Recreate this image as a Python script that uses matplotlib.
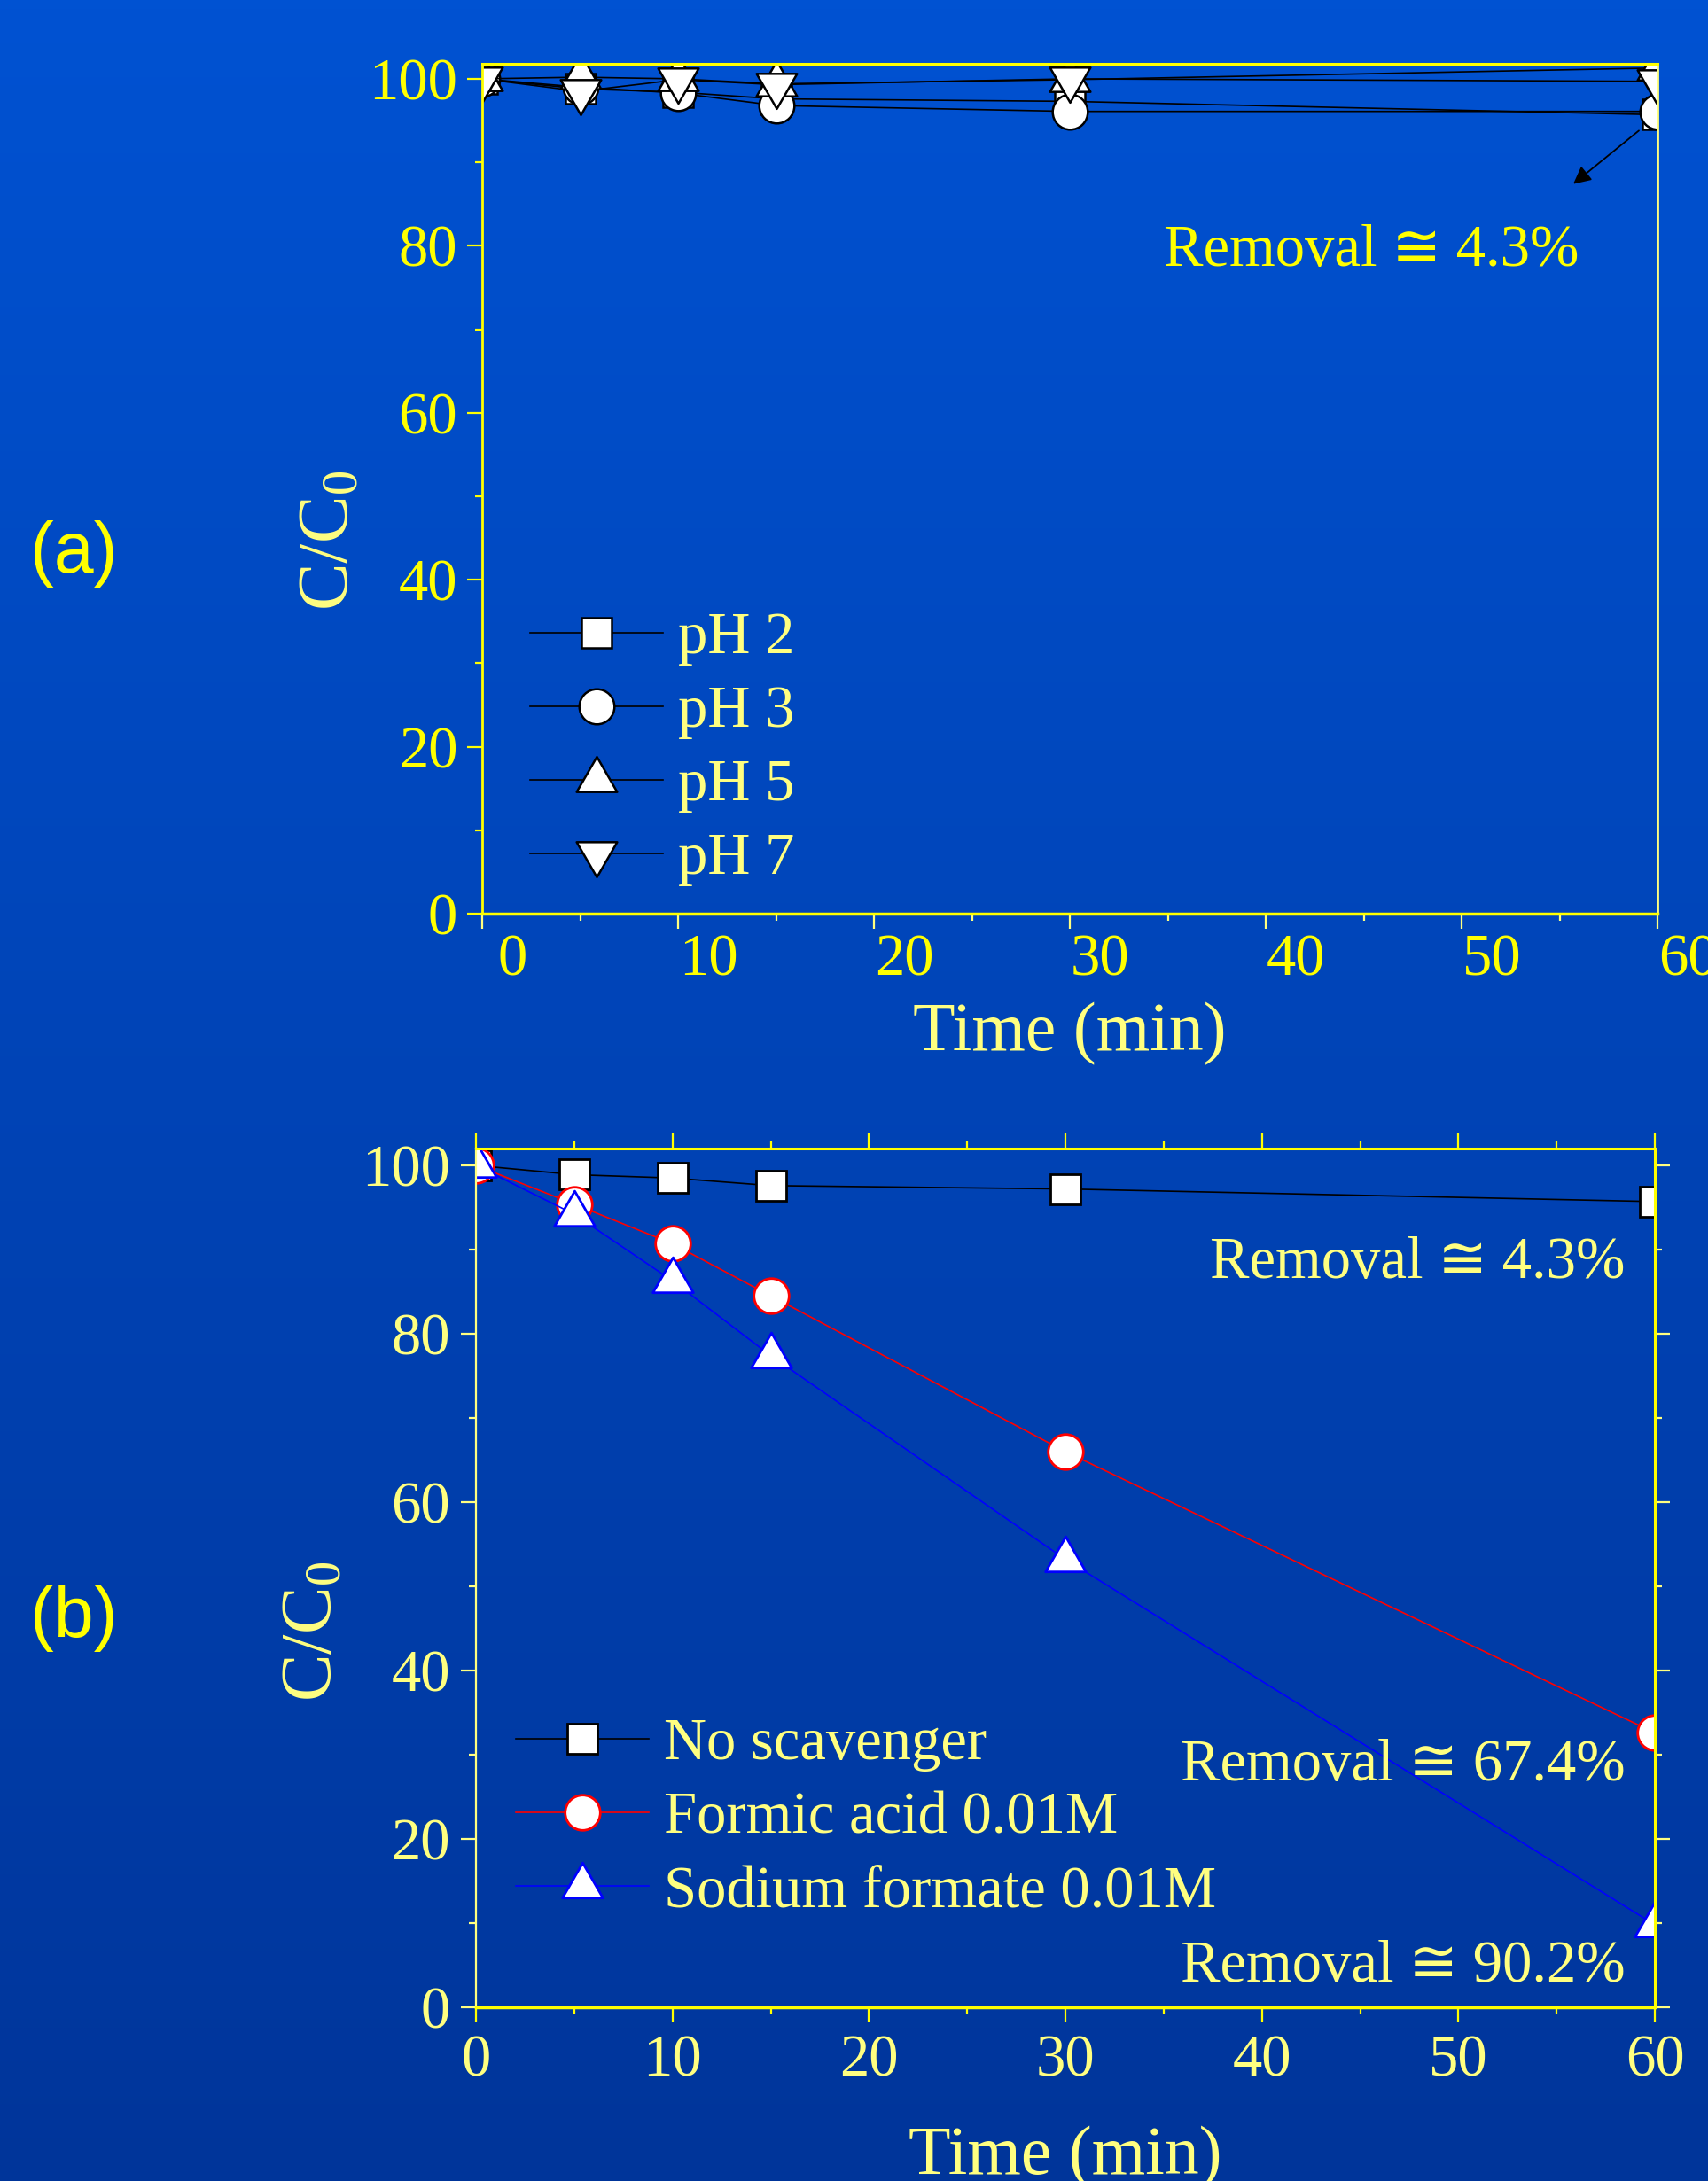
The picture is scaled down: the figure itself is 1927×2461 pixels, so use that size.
import numpy as np
import matplotlib
matplotlib.use('Agg')
import matplotlib.pyplot as plt
from matplotlib.path import Path
from matplotlib.ticker import MultipleLocator
from matplotlib.transforms import ScaledTranslation
from matplotlib.colors import LinearSegmentedColormap

plt.rcParams['font.family'] = ['Liberation Serif', 'DejaVu Sans']
plt.rcParams['mathtext.fontset'] = 'custom'
plt.rcParams['mathtext.rm'] = 'Liberation Serif'
plt.rcParams['mathtext.it'] = 'Liberation Serif:italic'

BRIGHT = '#FFFF00'
PALE = '#FFFF80'

# data
time_min = [0, 5, 10, 15, 30, 60]

ph_labels = ['pH 2', 'pH 3', 'pH 5', 'pH 7']
ph2 = [100, 98.8, 98.4, 97.6, 97.3, 95.7]
ph3 = [100, 99.0, 98.3, 96.8, 96.1, 96.1]
ph5 = [100, 100.2, 100.0, 99.4, 99.9, 101.3]
ph7 = [100, 98.5, 99.9, 99.3, 100.0, 99.7]

scav_labels = ['No scavenger', 'Formic acid 0.01M', 'Sodium formate 0.01M']
no_scav = [100, 98.9, 98.5, 97.6, 97.2, 95.7]
formic = [100, 95.4, 90.7, 84.5, 66.0, 32.6]
formate = [100, 94.2, 86.3, 77.4, 53.2, 9.8]

removal_a = 'Removal \u2245 4.3%'
removal_b = ['Removal \u2245 4.3%', 'Removal \u2245 67.4%', 'Removal \u2245 90.2%']

# triangles with the centroid on the data point (like Origin)
tri_up = Path([(0, 1.155), (-1, -0.577), (1, -0.577), (0, 1.155)],
              [Path.MOVETO, Path.LINETO, Path.LINETO, Path.CLOSEPOLY])
tri_dn = Path([(0, -1.155), (-1, 0.577), (1, 0.577), (0, -1.155)],
              [Path.MOVETO, Path.LINETO, Path.LINETO, Path.CLOSEPOLY])

W, H = 1927, 2461
fig = plt.figure(figsize=(W / 100, H / 100), dpi=100)

# blue gradient background
bg = fig.add_axes([0, 0, 1, 1], zorder=-10)
grad = np.linspace(0, 1, 256).reshape(-1, 1)
bg.imshow(grad, aspect='auto', extent=[0, 1, 0, 1],
          cmap=LinearSegmentedColormap.from_list('bg', ['#0052D2', '#00359A']))
bg.axis('off')

ax_a = fig.add_axes([544 / W, 1 - 1031 / H, (1870 - 544) / W, (1031 - 72) / H])
ax_b = fig.add_axes([537 / W, 1 - 2265 / H, (1867 - 537) / W, (2265 - 1296) / H])
for ax in (ax_a, ax_b):
    ax.set_facecolor('none')

# ---- panel (a)
mk = dict(color='black', lw=1.2, mfc='white', mec='black', mew=1.8)
ax_a.plot(time_min, ph2, marker='s', ms=25, label=ph_labels[0], **mk)
ax_a.plot(time_min, ph3, marker='o', ms=28.5, label=ph_labels[1], **mk)
ax_a.plot(time_min, ph5, marker=tri_up, ms=38, label=ph_labels[2], **mk)
ax_a.plot(time_min, ph7, marker=tri_dn, ms=38, label=ph_labels[3], **mk)

ax_a.set_xlim(0, 60)
ax_a.set_ylim(0, 101.8)
ax_a.set_xticks(range(0, 61, 10))
ax_a.set_yticks(range(0, 101, 20))
ax_a.xaxis.set_minor_locator(MultipleLocator(5))
ax_a.yaxis.set_minor_locator(MultipleLocator(10))
ax_a.tick_params(which='both', direction='out', top=False, right=False)
ax_a.tick_params(axis='y', which='major', length=12, width=1.6, color=BRIGHT,
                 labelcolor=BRIGHT, labelsize=48, pad=8)
ax_a.tick_params(axis='y', which='minor', length=6, width=1.6, color=BRIGHT)
ax_a.tick_params(axis='x', which='major', length=12, width=1.6, color=PALE,
                 labelcolor=BRIGHT, labelsize=48, pad=4)
ax_a.tick_params(axis='x', which='minor', length=6, width=1.6, color=PALE)
for side, c, w in [('top', BRIGHT, 2.2), ('left', BRIGHT, 2.0),
                   ('right', PALE, 2.0), ('bottom', BRIGHT, 2.5)]:
    ax_a.spines[side].set_color(c)
    ax_a.spines[side].set_linewidth(w)

ax_a.set_xlabel('Time (min)', fontsize=56, color=PALE, va='baseline')
ax_a.xaxis.set_label_coords(0.5, -0.1606)
ax_a.set_ylabel(r'C/C$_0$', fontsize=58, color=PALE, va='baseline')
ax_a.yaxis.set_label_coords(-0.114, 0.439)

leg = ax_a.legend(loc='center left', bbox_to_anchor=(0.0407, 0.194), frameon=False,
                  fontsize=48, handlelength=2.25, handletextpad=0.25, labelspacing=0.33,
                  borderpad=0, borderaxespad=0, numpoints=1)
for t in leg.get_texts():
    t.set_color(PALE)

ax_a.text(56.0, 77.6, removal_a, ha='right', va='baseline', fontsize=48, color=BRIGHT)
ax_a.annotate('', xy=(55.7, 87.4), xytext=(59.05, 93.8),
              arrowprops=dict(arrowstyle='-|>', color='black', lw=1.3,
                              mutation_scale=30, shrinkA=0, shrinkB=0))

# x tick labels of panel (a) sit a little right of their ticks
shift = ScaledTranslation(0.34, 0, fig.dpi_scale_trans)
for lab in ax_a.get_xticklabels():
    lab.set_transform(lab.get_transform() + shift)

# ---- panel (b)
ax_b.plot(time_min, no_scav, color='black', lw=1.2, marker='s', ms=25,
          mfc='white', mec='black', mew=2.0, label=scav_labels[0])
ax_b.plot(time_min, formic, color='#FF0000', lw=1.2, marker='o', ms=28.5,
          mfc='white', mec='#FF0000', mew=2.0, label=scav_labels[1])
ax_b.plot(time_min, formate, color='#0000FF', lw=1.2, marker=tri_up, ms=38,
          mfc='white', mec='#0000FF', mew=2.0, label=scav_labels[2])

ax_b.set_xlim(0, 60)
ax_b.set_ylim(0, 102)
ax_b.set_xticks(range(0, 61, 10))
ax_b.set_yticks(range(0, 101, 20))
ax_b.xaxis.set_minor_locator(MultipleLocator(5))
ax_b.yaxis.set_minor_locator(MultipleLocator(10))
ax_b.tick_params(which='both', direction='out', top=True, right=True)
ax_b.tick_params(which='major', length=12, width=1.6, color=BRIGHT,
                 labelcolor=PALE, labelsize=48)
ax_b.tick_params(which='minor', length=6, width=1.6, color=BRIGHT)
ax_b.tick_params(axis='y', which='both', color=PALE)
ax_b.tick_params(axis='y', which='major', pad=9)
ax_b.tick_params(axis='x', which='major', pad=10)
for side, c, w in [('top', BRIGHT, 2.2), ('left', PALE, 1.6),
                   ('right', BRIGHT, 2.2), ('bottom', BRIGHT, 2.5)]:
    ax_b.spines[side].set_color(c)
    ax_b.spines[side].set_linewidth(w)

ax_b.set_xlabel('Time (min)', fontsize=56, color=PALE, va='baseline')
ax_b.xaxis.set_label_coords(0.5, -0.194)
ax_b.set_ylabel(r'C/C$_0$', fontsize=58, color=PALE, va='baseline')
ax_b.yaxis.set_label_coords(-0.1233, 0.4376)

leg = ax_b.legend(loc='center left', bbox_to_anchor=(0.0338, 0.22), frameon=False,
                  fontsize=48, handlelength=2.25, handletextpad=0.25, labelspacing=0.33,
                  borderpad=0, borderaxespad=0, numpoints=1)
for t in leg.get_texts():
    t.set_color(PALE)

for yv, txt in zip([86.6, 26.9, 3.05], removal_b):
    ax_b.text(58.5, yv, txt, ha='right', va='baseline', fontsize=48, color=PALE)

# panel letters
fig.text(83 / W, 1 - 625 / H, '(a)', fontsize=58, color=BRIGHT, family='Liberation Sans',
         ha='center', va='center')
fig.text(83 / W, 1 - 1826 / H, '(b)', fontsize=58, color=BRIGHT, family='Liberation Sans',
         ha='center', va='center')

fig.savefig('out.png', dpi=100, facecolor='#0046B8')
